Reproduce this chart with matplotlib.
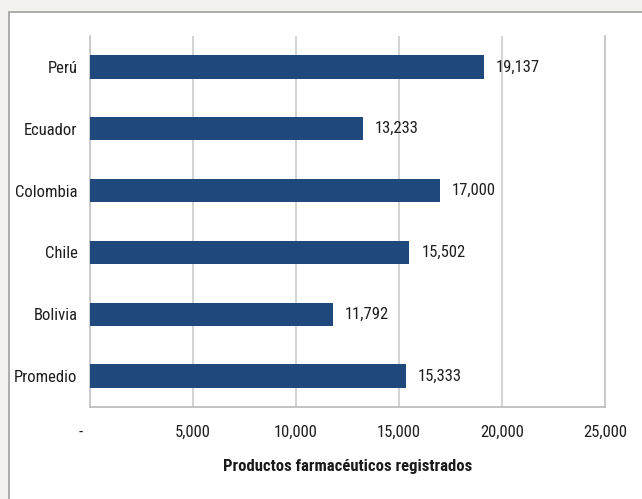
import matplotlib
matplotlib.use('Agg')
import matplotlib.pyplot as plt
import matplotlib.transforms as mtransforms
from matplotlib.patches import Rectangle

# data
countries = ['Perú', 'Ecuador', 'Colombia', 'Chile', 'Bolivia', 'Promedio']
products = [19137, 13233, 17000, 15502, 11792, 15333]
xticks = [0, 5000, 10000, 15000, 20000, 25000]
xtick_labels = ['-', '5,000', '10,000', '15,000', '20,000', '25,000']

plt.rcParams['font.family'] = ['Roboto Condensed', 'Liberation Sans', 'DejaVu Sans']

fig = plt.figure(figsize=(6.42, 4.99), dpi=100)
fig.patch.set_facecolor('#f3f2ee')

# white panel with thin frame (drawn under the axes)
fig.patches.append(Rectangle((9 / 642, -0.1), 1.0, (499 - 12) / 499 + 0.1,
                             transform=fig.transFigure, facecolor='white',
                             edgecolor='#a0a0a0', linewidth=1.2, zorder=-10))

ax = fig.add_axes([90 / 642, (499 - 407) / 499, 515 / 642, 371 / 499])
ax.set_facecolor('white')

pos = list(range(len(countries)))
ax.barh(pos, products, height=0.38, color='#1f487c', zorder=3)
for p, v in zip(pos, products):
    ax.text(v + 580, p, f'{v:,}', va='center', ha='left', fontsize=12, color='#1e1e1e')

ax.set_xlim(0, 25000)
ax.set_ylim(5.5, -0.5)
ax.set_yticks(pos)
ax.set_yticklabels(countries, fontsize=12, color='#1e1e1e')
ax.set_xticks(xticks)
ax.set_xticklabels(xtick_labels, fontsize=12, color='#1e1e1e')
ax.tick_params(axis='both', length=0)
ax.tick_params(axis='y', pad=9)
ax.tick_params(axis='x', pad=13)
ax.grid(axis='x', color='#d0d0d0', linewidth=1.3, zorder=0)

# accounting-style zero dash sits a bit left of the axis
dash = ax.get_xticklabels()[0]
dash.set_transform(dash.get_transform() + mtransforms.ScaledTranslation(-9 / 100, 0, fig.dpi_scale_trans))

ax.spines['top'].set_visible(False)
ax.spines['right'].set_color('#c8c8c8')
ax.spines['left'].set_color('#c8c8c8')
ax.spines['bottom'].set_color('#bdbdbd')
for s in ['left', 'right', 'bottom']:
    ax.spines[s].set_linewidth(1.3)

ax.set_xlabel('Productos farmacéuticos registrados', fontsize=12, fontweight='bold',
              color='#1a1a1a', labelpad=14)

fig.savefig('out.png', dpi=100, facecolor=fig.get_facecolor())
